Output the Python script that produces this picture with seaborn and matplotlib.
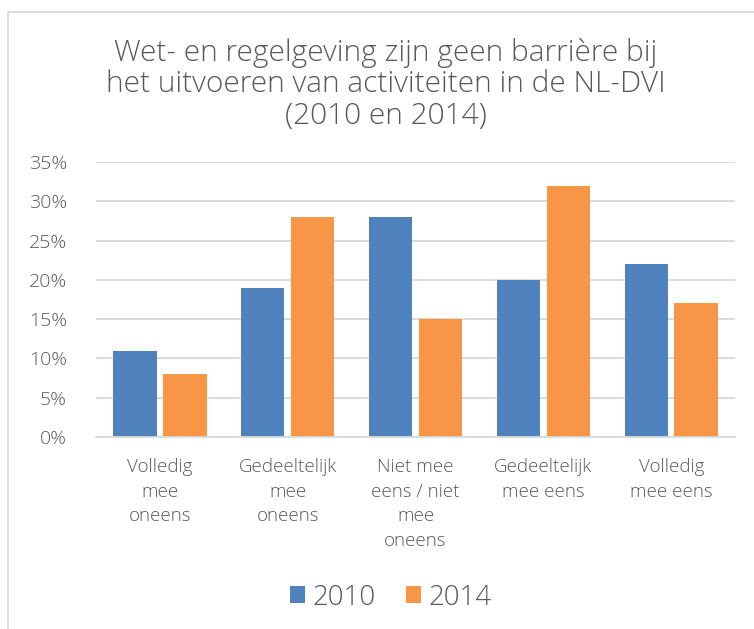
import pandas as pd
import matplotlib.pyplot as plt
import seaborn as sns
from matplotlib.patches import Rectangle
from matplotlib.ticker import PercentFormatter

categories = ['Volledig\nmee\noneens', 'Gedeeltelijk\nmee\noneens',
              'Niet mee\neens / niet\nmee\noneens', 'Gedeeltelijk\nmee eens',
              'Volledig\nmee eens']
years = ['2010', '2014']
values_2010 = [11, 19, 28, 20, 22]
values_2014 = [8, 28, 15, 32, 17]
title = 'Wet- en regelgeving zijn geen barrière bij\nhet uitvoeren van activiteiten in de NL-DVI\n(2010 en 2014)'

df = pd.DataFrame({
    'categorie': categories * 2,
    'jaar': [years[0]] * 5 + [years[1]] * 5,
    'waarde': values_2010 + values_2014,
})

sns.set_style('white')
plt.rcParams['font.family'] = ['Open Sans', 'DejaVu Sans']
plt.rcParams['font.weight'] = 'light'
txt = '#595959'

fig = plt.figure(figsize=(7.54, 6.29), dpi=100)
ax = fig.add_axes([0.1273, 0.3052, 0.8477, 0.4372])

sns.barplot(data=df, x='categorie', y='waarde', hue='jaar',
            palette=['#4F81BD', '#F79646'], saturation=1, width=0.78, gap=0.13,
            linewidth=0, ax=ax, legend=True)

ax.set_ylim(0, 35)
ax.set_yticks(range(0, 36, 5))
ax.yaxis.set_major_formatter(PercentFormatter(decimals=0))
ax.grid(axis='y', color='#D9D9D9', linewidth=1.3)
ax.set_axisbelow(True)
for s in ['top', 'right', 'left']:
    ax.spines[s].set_visible(False)
ax.spines['bottom'].set_color('#D9D9D9')
ax.spines['bottom'].set_linewidth(1.3)
ax.set_xlabel('')
ax.set_ylabel('')
ax.tick_params(axis='y', length=0, labelsize=14, labelcolor=txt, pad=21)
ax.tick_params(axis='x', length=0, labelsize=13.5, labelcolor=txt, pad=15)
for lbl in ax.get_xticklabels():
    lbl.set_linespacing(1.48)
    lbl.set_va('top')

fig.text(0.512, 0.94, title, ha='center', va='top', fontsize=21.5,
         color=txt, linespacing=1.1)

ax.legend(loc='center', bbox_to_anchor=(0.518, 0.05), bbox_transform=fig.transFigure,
          ncol=2, frameon=False, fontsize=20, labelcolor=txt,
          handlelength=0.55, handleheight=0.55, handletextpad=0.25, columnspacing=1.1)

fig.patches.append(Rectangle((8 / 754, -0.05), 1.1, 1.05 - 12 / 629,
                             transform=fig.transFigure, fill=False,
                             edgecolor='#D9D9D9', linewidth=1.3))

fig.savefig('out.png', dpi=100)
